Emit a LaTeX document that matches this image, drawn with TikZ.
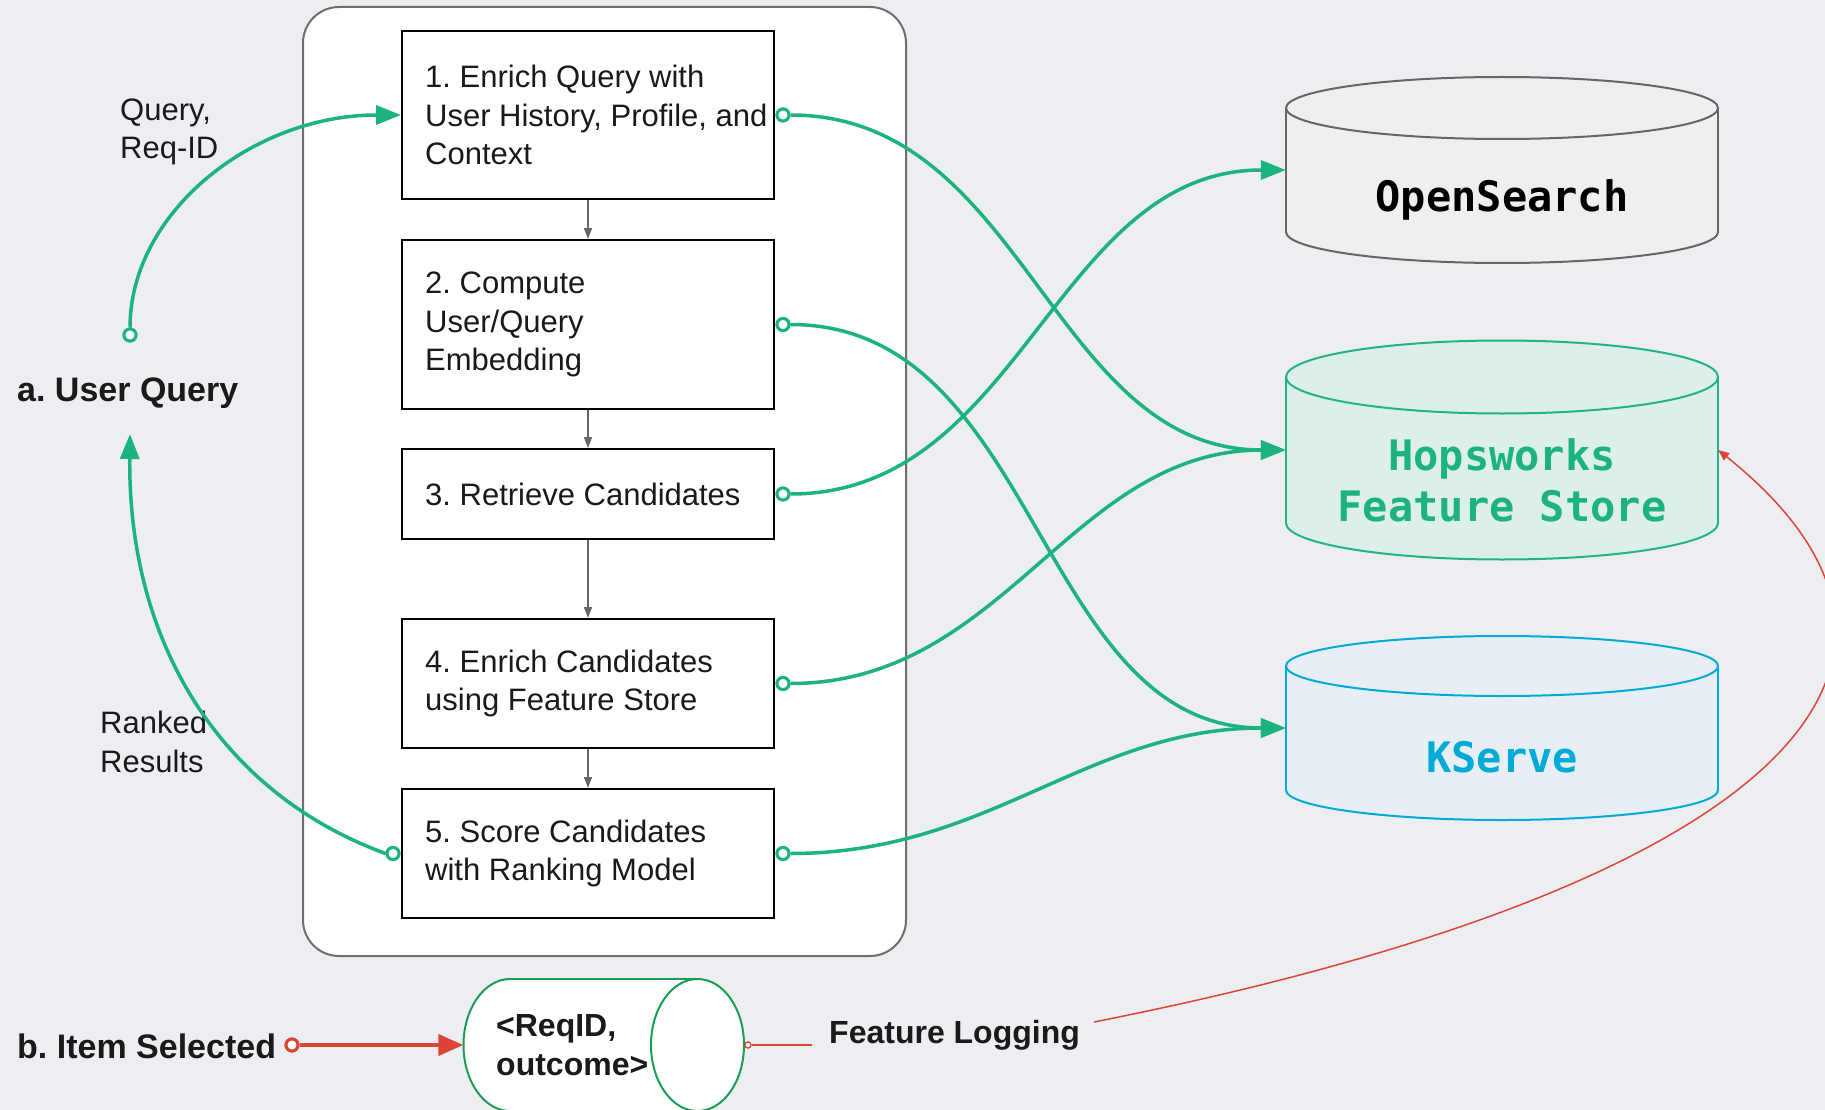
\documentclass[tikz,border=0pt]{standalone}
\usepackage{fontspec}
\setmainfont{Liberation Sans}
\newfontfamily\monofam{DejaVu Sans Mono}
\usetikzlibrary{arrows.meta}
\frenchspacing
\definecolor{bg}{HTML}{EDEEF2}
\definecolor{txt}{HTML}{1A1A1A}
\definecolor{grn}{HTML}{1DB381}
\definecolor{red1}{HTML}{DB4437}
\definecolor{panelgray}{HTML}{6E6E6E}
\definecolor{osfill}{HTML}{EFEFEF}
\definecolor{osline}{HTML}{666666}
\definecolor{hwfill}{HTML}{DDEFEA}
\definecolor{hwline}{HTML}{22B486}
\definecolor{ksfill}{HTML}{E8EEF6}
\definecolor{ksline}{HTML}{00ACD7}
\definecolor{cylgreen}{HTML}{1A9E55}
\tikzset{
  container/.style={draw=panelgray, line width=2pt, fill=white, rounded corners=36pt, inner sep=0pt},
  stepbox/.style={draw=black, line width=2pt, fill=white, minimum width=372pt, inner sep=0pt},
  boxtext/.style={anchor=west, align=left, inner sep=0pt, font=\fontsize{31}{38.4}\selectfont, text=txt},
  lbl/.style={anchor=west, align=left, inner sep=0pt, font=\fontsize{31}{38.4}\selectfont, text=txt},
  blbl/.style={anchor=west, align=left, inner sep=0pt, font=\bfseries\fontsize{34}{40}\selectfont, text=txt},
  slbl/.style={anchor=west, align=left, inner sep=0pt, font=\bfseries\fontsize{32}{39}\selectfont, text=txt},
  monotext/.style={align=center, inner sep=0pt, font=\monofam\bfseries\fontsize{42}{51}\selectfont},
  gline/.style={draw=grn, line width=3.5pt},
  gtip/.style={-{Triangle[length=25pt,width=19pt]}},
  gdot/.style={circle, draw=grn, fill=white, line width=3pt, minimum size=12pt, inner sep=0pt},
  rdot/.style={circle, draw=red1, fill=white, line width=3pt, minimum size=12pt, inner sep=0pt},
  rsmall/.style={circle, draw=red1, fill=white, line width=1.2pt, minimum size=6pt, inner sep=0pt},
  rthick/.style={draw=red1, line width=4pt, -{Triangle[length=25pt,width=21pt]}},
  rthin/.style={draw=red1, line width=1.5pt},
  grayarrow/.style={draw=osline, line width=1.8pt, -{Triangle[length=11pt,width=8pt]}},
  cylbox/.style={draw=none, minimum width=432pt, inner sep=0pt},
}
\begin{document}
\begin{tikzpicture}[x=1pt,y=-1pt]
\useasboundingbox (0,0) rectangle (1825,1110);
\clip (0,0) rectangle (1825,1110);
\fill[bg] (0,0) rectangle (1825,1110);

% panel
\node[container, minimum width=603pt, minimum height=949pt] (panel) at (604.5,481.5) {};

% step boxes
\node[stepbox, minimum height=168pt] (s1) at (588,115) {};
\node[stepbox, minimum height=169pt] (s2) at (588,324.5) {};
\node[stepbox, minimum height=90pt] (s3) at (588,494) {};
\node[stepbox, minimum height=129pt] (s4) at (588,683.5) {};
\node[stepbox, minimum height=129pt] (s5) at (588,853.5) {};
\node[boxtext] (t1) at ([xshift=24pt]s1.west) {1. Enrich Query with\\User History, Profile, and\\Context};
\node[boxtext] (t2) at ([xshift=24pt]s2.west) {2. Compute\\User/Query\\Embedding};
\node[boxtext] (t3) at ([xshift=24pt]s3.west) {3. Retrieve Candidates};
\node[boxtext] (t4) at ([xshift=24pt]s4.west) {4. Enrich Candidates\\using Feature Store};
\node[boxtext] (t5) at ([xshift=24pt]s5.west) {5. Score Candidates\\with Ranking Model};

\draw[grayarrow] (s1) -- (s2);
\draw[grayarrow] (s2) -- (s3);
\draw[grayarrow] (s3) -- (s4);
\draw[grayarrow] (s4) -- (s5);

% OpenSearch cylinder
\filldraw[fill=osfill, draw=osline, line width=2pt] (1502,232) ellipse [x radius=216pt, y radius=31pt];
\fill[osfill] (1286,108) rectangle (1718,232);
\draw[osline, line width=2pt] (1286,108) -- (1286,232) (1718,108) -- (1718,232);
\filldraw[fill=osfill, draw=osline, line width=2pt] (1502,108) ellipse [x radius=216pt, y radius=31pt];
\node[cylbox, minimum height=124pt] (os) at (1502,170) {};
\node[monotext, text=black] (ost) at (1502,200) {OpenSearch};

% Hopsworks cylinder
\filldraw[fill=hwfill, draw=hwline, line width=2pt] (1502,523) ellipse [x radius=216pt, y radius=36.5pt];
\fill[hwfill] (1286,377) rectangle (1718,523);
\draw[hwline, line width=2pt] (1286,377) -- (1286,523) (1718,377) -- (1718,523);
\filldraw[fill=hwfill, draw=hwline, line width=2pt] (1502,377) ellipse [x radius=216pt, y radius=36.5pt];
\node[cylbox, minimum height=146pt] (hw) at (1502,450) {};
\node[monotext, text=grn] (hwt) at (1502,480) {Hopsworks\\Feature Store};

% KServe cylinder
\filldraw[fill=ksfill, draw=ksline, line width=2pt] (1502,790) ellipse [x radius=216pt, y radius=30pt];
\fill[ksfill] (1286,666) rectangle (1718,790);
\draw[ksline, line width=2pt] (1286,666) -- (1286,790) (1718,666) -- (1718,790);
\filldraw[fill=ksfill, draw=ksline, line width=2pt] (1502,666) ellipse [x radius=216pt, y radius=30pt];
\node[cylbox, minimum height=124pt] (ks) at (1502,728) {};
\node[monotext, text=ksline] (kst) at (1502,757) {KServe};

% green connectors to stores
\node[gdot] (o1) at ([xshift=8pt]s1.east) {};
\node[gdot] (o2) at ([xshift=8pt]s2.east) {};
\node[gdot] (o3) at ([xshift=8pt]s3.east) {};
\node[gdot] (o4) at ([xshift=8pt]s4.east) {};
\node[gdot] (o5) at ([xshift=8pt]s5.east) {};
\draw[gline, gtip] (o1.east) to[out=0,in=180] (hw.west);
\draw[gline, gtip] (o2.east) to[out=0,in=180] (ks.west);
\draw[gline, gtip] (o3.east) to[out=0,in=180] (os.west);
\draw[gline, gtip] (o4.east) to[out=0,in=180] (hw.west);
\draw[gline, gtip] (o5.east) to[out=0,in=180] (ks.west);
\node[gdot] at (o1) {};
\node[gdot] at (o2) {};
\node[gdot] at (o3) {};
\node[gdot] at (o4) {};
\node[gdot] at (o5) {};

% user query side
\node[lbl] (ql) at (120,132) {Query,\\Req-ID};
\node[blbl] (uq) at (17,393) {a. User Query};
\node[gdot] (qd) at (130,335) {};
\draw[gline, gtip] (qd.north) .. controls (130,213) and (252,115) .. (s1.west);
\node[gdot] at (qd) {};

\node[lbl] (rl) at (100,742) {Ranked\\Results};
\coordinate (rtip) at (130,434);
\node[gdot] (o5l) at ([xshift=-8pt]s5.west) {};
\draw[gline, gtip] (o5l.west) .. controls (218,792) and (128,640) .. (rtip);
\node[gdot] at (o5l) {};

% item selected / feature logging
\node[blbl] (is) at (17,1046) {b. Item Selected};
\filldraw[fill=white, draw=cylgreen, line width=2pt] (510,1045) ellipse [x radius=46.5pt, y radius=66pt];
\fill[white] (510,979) rectangle (697.5,1111);
\draw[cylgreen, line width=2pt] (510,979) -- (697.5,979) (510,1111) -- (697.5,1111);
\filldraw[fill=white, draw=cylgreen, line width=2pt] (697.5,1045) ellipse [x radius=46.5pt, y radius=66pt];
\node[draw=none, minimum width=280.5pt, minimum height=132pt, inner sep=0pt] (rq) at (603.75,1045) {};
\node[slbl] (rqt) at (496,1045) {\textless ReqID,\\outcome\textgreater};

\node[rdot] (rd1) at (292,1045) {};
\draw[rthick] (rd1.east) -- (rq.west);
\node[rdot] at (rd1) {};

\node[slbl] (fl) at (829,1035) {Feature Logging};
\node[rsmall] (rd2) at (748,1045) {};
\draw[rthin, shorten >=17pt] (rd2.east) -- (rd2.east -| fl.west);
\node[rsmall] at (rd2) {};

\coordinate (flend) at (1094,1022);
\draw[rthin, -{Triangle[length=11pt,width=9pt]}] (flend) .. controls (1760,890) and (1995,672) .. (hw.east);
\end{tikzpicture}
\end{document}
